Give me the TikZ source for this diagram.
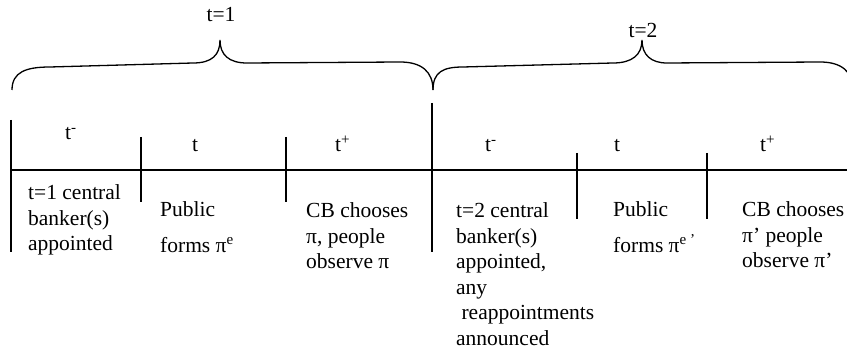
\documentclass[tikz,border=0pt]{standalone}
\usepackage{fontspec}
\setmainfont{Liberation Serif}
\begin{document}
\begin{tikzpicture}[x=1pt,y=-1pt,
  txt/.style={anchor=base west,inner sep=0pt,font=\fontsize{21.5}{25.5}\selectfont},
  lbl/.style={anchor=base,inner sep=0pt,font=\fontsize{21.5}{25.5}\selectfont},
  rule/.style={line width=1.5pt},
  bracestyle/.style={line width=1.3pt}]
\useasboundingbox (0,0) rectangle (847,352);
\begin{scope}
\clip (0,0) rectangle (847,352);
% brace 1
\draw[bracestyle] (12,90) .. controls (12,72) and (26,67) .. (50,67) -- (193,63)
  .. controls (212,63) and (220,55) .. (220,40)
  .. controls (220,55) and (229,63) .. (247,63) -- (400,62)
  .. controls (422,62) and (433,72) .. (433,90);
% brace 2
\draw[bracestyle] (433,90) .. controls (433,72) and (443,67) .. (463,67) -- (613,63)
  .. controls (632,63) and (642,55) .. (642,40)
  .. controls (642,55) and (651,63) .. (667,63) -- (820,62)
  .. controls (842,62) and (853,72) .. (853,90);
\end{scope}
\node[lbl] (p1) at (221,22) {t=1};
\node[lbl] (p2) at (643,38) {t=2};
% timeline
\draw[rule] (11,170) -- (847,170);
\draw[line width=1.8pt] (11,120) -- (11,252);
\draw[rule] (141,137) -- (141,202);
\draw[rule] (286,137) -- (286,202);
\draw[line width=1.8pt] (432,103) -- (432,252);
\draw[rule] (577,153) -- (577,219);
\draw[rule] (707,153) -- (707,219);
% top labels
\node[txt] (a1) at (65,140) {t\textsuperscript{-}};
\node[lbl] (a2) at (195,152) {t};
\node[txt] (a3) at (335,152) {t\textsuperscript{+}};
\node[txt] (b1) at (485,152) {t\textsuperscript{-}};
\node[lbl] (b2) at (617,152) {t};
\node[txt] (b3) at (760,152) {t\textsuperscript{+}};
% bottom texts
\node[txt] (c1) at (28,200) {\begin{tabular}[t]{@{}l@{}}t=1 central\\banker(s)\\appointed\end{tabular}};
\node[txt] (c2) at (160,217) {\begin{tabular}[t]{@{}l@{}}Public\\[10pt]forms π\textsuperscript{e}\end{tabular}};
\node[txt] (c3) at (306,218) {\begin{tabular}[t]{@{}l@{}}CB chooses\\π, people\\observe π\end{tabular}};
\node[txt] (d1) at (456,218) {\begin{tabular}[t]{@{}l@{}}t=2 central\\banker(s)\\appointed,\\any\\\ reappointments\\announced\end{tabular}};
\node[txt] (d2) at (613,217) {\begin{tabular}[t]{@{}l@{}}Public\\[10pt]forms π\textsuperscript{e ’}\end{tabular}};
\node[txt] (d3) at (742,217) {\begin{tabular}[t]{@{}l@{}}CB chooses\\π’ people\\observe π’\end{tabular}};
\end{tikzpicture}
\end{document}
